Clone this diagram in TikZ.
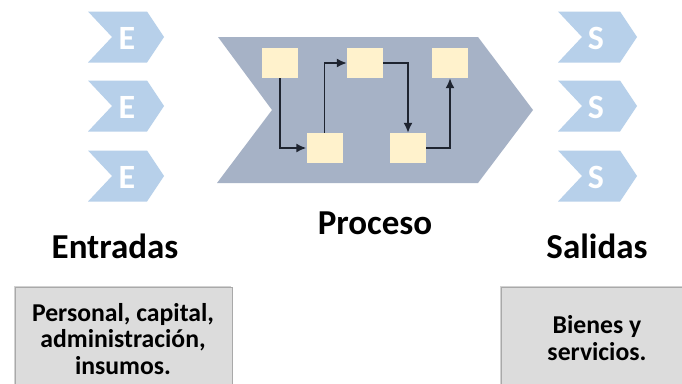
\documentclass[tikz,border=0pt]{standalone}
\usepackage{fontspec}
\setmainfont{Carlito}
\usetikzlibrary{arrows.meta,shadows}
\definecolor{chevblue}{HTML}{B7D0EA}
\definecolor{procgray}{HTML}{A6B2C6}
\definecolor{cream}{HTML}{FFF2CC}
\definecolor{arrowdark}{HTML}{1E2430}
\definecolor{boxgray}{HTML}{DCDCDC}
\definecolor{boxedge}{HTML}{A9A9A9}
\tikzset{
  smallchev/.style={fill=chevblue, draw=none},
  chevletter/.style={text=white, font=\bfseries\fontsize{34}{34}\selectfont, inner sep=0pt},
  pbox/.style={fill=cream, draw=none, minimum width=36pt, minimum height=30pt, inner sep=0pt},
  flow/.style={draw=arrowdark, line width=1.7pt, -{Latex[length=10pt,width=9pt]}},
  title/.style={font=\bfseries\fontsize{35}{35}\selectfont, text=black, inner sep=0pt},
  infobox/.style={fill=boxgray, draw=boxedge, line width=0.8pt, drop shadow={shadow xshift=-1.5pt, shadow yshift=1.5pt, opacity=0.35}},
  infotext/.style={font=\bfseries\fontsize{25.7}{26.5}\selectfont, align=center, text=black, inner sep=0pt}
}
\begin{document}
\begin{tikzpicture}[x=1pt,y=-1pt]
\useasboundingbox[fill=white] (0,0) rectangle (682,383);
% input chevrons
\foreach \yc/\nm in {37/e1,106/e2,176/e3}{
  \fill[smallchev] (88,\yc-25.5) -- (147,\yc-25.5) -- (164,\yc) -- (147,\yc+25.5) -- (88,\yc+25.5) -- (112,\yc) -- cycle;
  \node[chevletter] (\nm) at (127,\yc+1.5) {E};
}
% output chevrons
\foreach \yc/\nm in {37/s1,106/s2,176/s3}{
  \fill[smallchev] (558,\yc-25.5) -- (620,\yc-25.5) -- (637,\yc) -- (620,\yc+25.5) -- (558,\yc+25.5) -- (582,\yc) -- cycle;
  \node[chevletter] (\nm) at (596,\yc+1.5) {S};
}
% process chevron
\fill[procgray] (218,37) -- (478,37) -- (533,110) -- (478,183) -- (217,183) -- (272,110) -- cycle;
\node[pbox] (b1) at (280,63) {};
\node[pbox] (b2) at (324.5,148) {};
\node[pbox] (b3) at (365,63) {};
\node[pbox] (b4) at (408,148) {};
\node[pbox] (b5) at (450,63) {};
\draw[flow] (b1.south) |- (b2.west);
\draw[flow] (b2.north) |- (b3.west);
\draw[flow] (b3.east) -| (b4.north);
\draw[flow] (b4.east) -| (b5.south);
% titles
\node[title] (tin) at (115,246) {Entradas};
\node[title] (tproc) at (375,223) {Proceso};
\node[title] (tout) at (597,246) {Salidas};
% info boxes
\draw[infobox] (15,287) rectangle (232,392);
\draw[infobox] (501,287) rectangle (690,392);
\node[infotext] (inbox) at (123,339) {Personal, capital,\\administración,\\insumos.};
\node[infotext] (outbox) at (597,338) {Bienes y\\servicios.};
\end{tikzpicture}
\end{document}
